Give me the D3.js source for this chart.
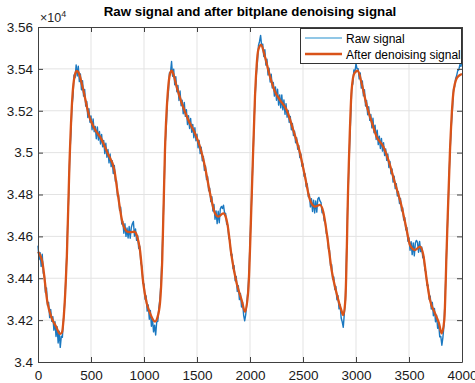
<!DOCTYPE html>
<html>
<head>
<meta charset="utf-8">
<script src="https://cdn.jsdelivr.net/npm/d3@7"></script>
<style>
  html, body { margin: 0; padding: 0; background: #fff; }
  svg { display: block; font-family: "Liberation Sans", Arial, Helvetica, sans-serif; }
</style>
</head>
<body>
<div id="chart"></div>
<script>
// denoised signal (sample index, value)
const denoisedX = [0, 40, 90, 125, 170, 208, 225, 245, 258, 272, 296, 327, 345, 365, 380, 420, 484, 531, 594, 657,
  720, 752, 799, 846, 880, 909, 935, 962, 993, 1025, 1057, 1104, 1125, 1151, 1172, 1198, 1229, 1245, 1261, 1280,
  1308, 1356, 1418, 1481, 1528, 1575, 1623, 1670, 1701, 1748, 1770, 1786, 1827, 1874, 1921, 1953, 1984, 2016, 2047, 2078,
  2104, 2141, 2189, 2236, 2283, 2346, 2408, 2472, 2519, 2566, 2613, 2660, 2691, 2729, 2770, 2817, 2860, 2880, 2900, 2927,
  2959, 2984, 3016, 3053, 3100, 3147, 3195, 3258, 3305, 3368, 3431, 3478, 3509, 3557, 3604, 3635, 3667, 3698, 3745, 3783,
  3808, 3833, 3855, 3887, 3918, 3950, 3981, 4000];
const denoisedY = [34527, 34480, 34282, 34216, 34170, 34134, 34140, 34230, 34340, 34500, 34933, 35285, 35365, 35390, 35385, 35315, 35172, 35116, 35068, 34997,
  34917, 34806, 34662, 34622, 34620, 34622, 34600, 34535, 34377, 34282, 34233, 34193, 34210, 34282, 34487, 35013, 35315, 35375, 35391, 35370,
  35315, 35236, 35156, 35092, 35028, 34933, 34806, 34710, 34694, 34710, 34695, 34662, 34503, 34376, 34296, 34240, 34344, 34790, 35267, 35490,
  35514, 35458, 35363, 35291, 35251, 35204, 35108, 34997, 34885, 34774, 34742, 34750, 34718, 34599, 34439, 34328, 34250, 34224, 34300, 34854,
  35300, 35379, 35391, 35331, 35227, 35148, 35076, 35028, 34965, 34854, 34742, 34631, 34559, 34535, 34551, 34511, 34392, 34296, 34233, 34185,
  34137, 34201, 34535, 35013, 35283, 35355, 35371, 35375];

// raw signal, one value every 10 samples from 0 to 4000 (one row = 100 samples)
const rawStep = 10;
const rawY = [
  34556, 34489, 34522, 34456, 34515, 34424, 34414, 34332, 34354, 34270,
  34285, 34212, 34251, 34194, 34217, 34152, 34193, 34122, 34169, 34091,
  34147, 34070, 34123, 34118, 34198, 34265, 34368, 34493, 34654, 34801,
  34990, 35084, 35221, 35269, 35371, 35358, 35419, 35366, 35413, 35339,
  35376, 35300, 35344, 35270, 35302, 35222, 35245, 35168, 35210, 35145,
  35175, 35109, 35161, 35100, 35125, 35066, 35123, 35060, 35101, 35041,
  35087, 35028, 35058, 34995, 35045, 34978, 35015, 34951, 34994, 34933,
  34961, 34900, 34939, 34863, 34867, 34792, 34797, 34724, 34739, 34659,
  34672, 34615, 34660, 34600, 34640, 34592, 34647, 34591, 34642, 34660,
  34671, 34601, 34635, 34581, 34604, 34542, 34553, 34475, 34456, 34377,
  34372, 34300, 34316, 34243, 34272, 34204, 34246, 34171, 34208, 34144,
  34176, 34129, 34191, 34194, 34257, 34299, 34376, 34501, 34657, 34834,
  35042, 35123, 35241, 35287, 35381, 35383, 35435, 35365, 35399, 35324,
  35363, 35291, 35321, 35249, 35294, 35224, 35250, 35186, 35240, 35173,
  35205, 35134, 35176, 35115, 35163, 35097, 35135, 35071, 35119, 35057,
  35088, 35023, 35058, 34995, 35026, 34961, 34982, 34915, 34936, 34871,
  34886, 34818, 34830, 34766, 34790, 34721, 34752, 34682, 34721, 34661,
  34720, 34665, 34732, 34743, 34733, 34749, 34712, 34710, 34658, 34654,
  34592, 34582, 34511, 34515, 34446, 34460, 34388, 34409, 34337, 34364,
  34298, 34327, 34263, 34286, 34223, 34197, 34228, 34285, 34336, 34423,
  34572, 34701, 34857, 35001, 35169, 35284, 35372, 35432, 35512, 35531,
  35560, 35510, 35518, 35459, 35492, 35418, 35446, 35371, 35403, 35337,
  35375, 35309, 35335, 35270, 35314, 35250, 35303, 35227, 35276, 35214,
  35276, 35204, 35252, 35183, 35234, 35169, 35201, 35144, 35173, 35109,
  35139, 35081, 35103, 35047, 35071, 35016, 35034, 34976, 34994, 34935,
  34946, 34887, 34899, 34837, 34851, 34789, 34801, 34741, 34780, 34719,
  34773, 34712, 34769, 34716, 34779, 34786, 34769, 34761, 34713, 34719,
  34674, 34671, 34614, 34604, 34540, 34533, 34459, 34465, 34396, 34407,
  34346, 34361, 34297, 34317, 34254, 34274, 34210, 34192, 34166, 34232,
  34295, 34500, 34715, 34891, 35040, 35169, 35315, 35328, 35395, 35385,
  35425, 35400, 35401, 35352, 35381, 35308, 35342, 35271, 35300, 35223,
  35249, 35181, 35219, 35154, 35182, 35118, 35164, 35095, 35131, 35063,
  35107, 35038, 35079, 35020, 35068, 35007, 35047, 34986, 35018, 34963,
  34994, 34929, 34958, 34899, 34922, 34859, 34887, 34828, 34852, 34793,
  34813, 34757, 34781, 34722, 34737, 34678, 34690, 34631, 34642, 34577,
  34593, 34534, 34575, 34513, 34569, 34507, 34568, 34581, 34572, 34524,
  34576, 34527, 34549, 34498, 34502, 34439, 34431, 34366, 34368, 34300,
  34315, 34253, 34285, 34221, 34256, 34192, 34224, 34161, 34184, 34120,
  34122, 34080, 34118, 34175, 34297, 34454, 34615, 34754, 34916, 35034,
  35136, 35209, 35304, 35314, 35354, 35369, 35392, 35395, 35420, 35412,
  35433];

const xTicks = [0, 500, 1000, 1500, 2000, 2500, 3000, 3500, 4000];
const yTicks = [34000, 34200, 34400, 34600, 34800, 35000, 35200, 35400, 35600];
const titleText = 'Raw signal and after bitplane denoising signal';
const legendLabels = ['Raw signal', 'After denoising signal'];

const W = 475, H = 383;
const m = { left: 38, right: 13, top: 27, bottom: 21 };

const svg = d3.select('#chart').append('svg').attr('width', W).attr('height', H);

const x = d3.scaleLinear().domain([0, 4000]).range([m.left, W - m.right]);
const y = d3.scaleLinear().domain([34000, 35600]).range([H - m.bottom, m.top]);

// grid
svg.append('g').selectAll('line').data(xTicks.slice(1, -1)).join('line')
  .attr('x1', d => x(d)).attr('x2', d => x(d))
  .attr('y1', y(34000)).attr('y2', y(35600))
  .attr('stroke', '#e3e3e3').attr('stroke-width', 1);
svg.append('g').selectAll('line').data(yTicks.slice(1, -1)).join('line')
  .attr('y1', d => y(d)).attr('y2', d => y(d))
  .attr('x1', x(0)).attr('x2', x(4000))
  .attr('stroke', '#e3e3e3').attr('stroke-width', 1);

// raw line
const rawData = rawY.map((v, i) => [i * rawStep, v]);
const line = d3.line().x(d => x(d[0])).y(d => y(d[1]));
svg.append('path').datum(rawData)
  .attr('d', line)
  .attr('fill', 'none')
  .attr('stroke', '#1a78c0')
  .attr('stroke-width', 1.4)
  .attr('stroke-linejoin', 'round');

// denoised line
const denData = denoisedX.map((v, i) => [v, denoisedY[i]]);
svg.append('path').datum(denData)
  .attr('d', line.curve(d3.curveMonotoneX))
  .attr('fill', 'none')
  .attr('stroke', '#d95319')
  .attr('stroke-width', 2.3)
  .attr('stroke-linejoin', 'round');

// axes, ticks inward on all four sides
const axisColor = '#404040';
const styleAxis = g => {
  g.select('.domain').attr('stroke', axisColor);
  g.selectAll('.tick line').attr('stroke', axisColor);
  g.selectAll('.tick text').attr('fill', '#1a1a1a').attr('font-size', 13.5);
};
svg.append('g').attr('transform', `translate(0,${y(34000)})`)
  .call(d3.axisBottom(x).tickValues(xTicks).tickSize(-5).tickPadding(8).tickSizeOuter(0)
    .tickFormat(d3.format('d')))
  .call(styleAxis);
svg.append('g').attr('transform', `translate(${x(0)},0)`)
  .call(d3.axisLeft(y).tickValues(yTicks).tickSize(-5).tickPadding(5).tickSizeOuter(0)
    .tickFormat(d => d3.format('~g')(d / 10000)))
  .call(styleAxis);
svg.append('g').attr('transform', `translate(0,${y(35600)})`)
  .call(d3.axisTop(x).tickValues(xTicks).tickSize(-5).tickFormat('').tickSizeOuter(0))
  .call(styleAxis);
svg.append('g').attr('transform', `translate(${x(4000)},0)`)
  .call(d3.axisRight(y).tickValues(yTicks).tickSize(-5).tickFormat('').tickSizeOuter(0))
  .call(styleAxis);

// exponent label
const expo = svg.append('text').attr('x', 40).attr('y', 22)
  .attr('font-size', 12.5).attr('fill', '#262626');
expo.append('tspan').text('\u00d710');
expo.append('tspan').attr('dy', -5).attr('font-size', 9).text('4');

// title
svg.append('text').attr('x', 250).attr('y', 16)
  .attr('text-anchor', 'middle').attr('font-size', 13.3).attr('font-weight', 'bold')
  .attr('fill', '#000').text(titleText);

// legend
const lg = svg.append('g').attr('transform', 'translate(300,28)');
lg.append('rect').attr('x', 0.5).attr('y', 0.5).attr('width', 161).attr('height', 35)
  .attr('fill', '#fff').attr('stroke', '#333').attr('stroke-width', 1);
const lgColors = ['#6db5de', '#d95319'];
const lgWidths = [1.6, 2.3];
legendLabels.forEach((t, i) => {
  const yy = 10 + i * 16;
  lg.append('line').attr('x1', 5).attr('x2', 42).attr('y1', yy).attr('y2', yy)
    .attr('stroke', lgColors[i]).attr('stroke-width', lgWidths[i]);
  lg.append('text').attr('x', 46).attr('y', yy + 4.5)
    .attr('font-size', 12).attr('fill', '#000').text(t);
});
</script>
</body>
</html>
